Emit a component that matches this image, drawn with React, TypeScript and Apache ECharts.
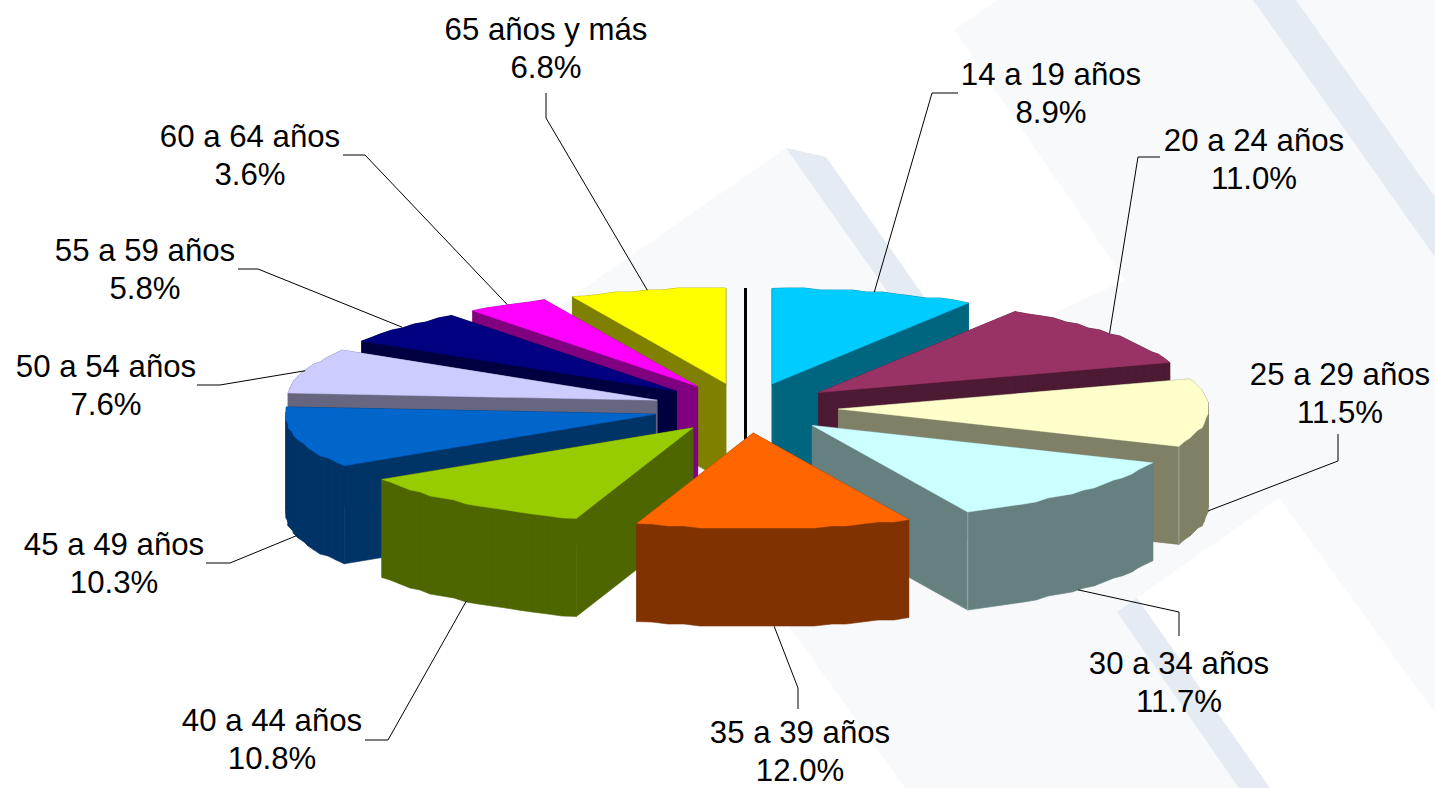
import React, { useEffect, useRef } from "react";
import * as echarts from "echarts";

const categories = ["14 a 19 años", "20 a 24 años", "25 a 29 años", "30 a 34 años", "35 a 39 años", "40 a 44 años", "45 a 49 años", "50 a 54 años", "55 a 59 años", "60 a 64 años", "65 años y más"];
const shares = [8.9, 11.0, 11.5, 11.7, 12.0, 10.8, 10.3, 7.6, 5.8, 3.6, 6.8];
const topColors = ["#00CCFF", "#993366", "#FFFFCC", "#CCFFFF", "#FF6600", "#99CC00", "#0066CC", "#CCCCFF", "#000080", "#FF00FF", "#FFFF00"];
const sideColors = ["#006680", "#4D1A33", "#808066", "#668080", "#803300", "#4D6600", "#003366", "#666680", "#000040", "#800080", "#808000"];

// Layout only: horizontal nudge of a slice, leader elbow, leader end, label centre
const sliceNudges = [1, 0, 0, 0, 2.5, 4.5, 0, 0, 0, 0, 0];
const leaderElbows = [[932, 93], [1138, 157], [1338, 461], [1179, 612], [798, 688], [388, 740], [230, 563], [220, 385], [258, 269], [365, 155], [546, 118]];
const leaderEnds = [[958, 93], [1160, 157], [1338, 434], [1179, 636], [798, 709], [365, 740], [206, 563], [197, 385], [238, 269], [343, 155], [546, 93]];
const labelCentres = [[1051, 74], [1254, 140], [1340, 374], [1179, 663], [800, 732], [272, 720], [114, 544], [106, 366], [145, 250], [250, 136], [546, 29]];

const CX = 745.5, CY = 408, RX = 370, RY = 95.5, EX = 93, EY = 25, DEPTH = 98;
const LIGHT = "#F7F9FB", STRIPE = "#E5EBF3";
const FONT = '31.2px "Liberation Sans", Arial, sans-serif';

const total = shares.reduce((a, b) => a + b, 0);
const ang = (p: number) => (p / total) * Math.PI * 2;
const cum: number[] = [];
shares.reduce((a, v, i) => ((cum[i] = a), a + v), 0);

function apex(mid: number, i: number) {
  return [CX + sliceNudges[i] + EX * Math.sin(mid), CY - EY * Math.cos(mid)];
}
function rim(ap: number[], a: number) {
  return [ap[0] + RX * Math.sin(a), ap[1] - RY * Math.cos(a)];
}
function arc(ap: number[], a0: number, a1: number) {
  const n = Math.max(2, Math.round((a1 - a0) / (Math.PI / 72)));
  const pts: number[][] = [];
  for (let i = 0; i <= n; i++) {
    const p = rim(ap, a0 + ((a1 - a0) * i) / n);
    pts.push(i === 0 || i === n ? p : [Math.round(p[0] / 2) * 2, Math.round(p[1] / 2) * 2]);
  }
  return pts;
}
const down = (p: number[]) => [p[0], p[1] + DEPTH];

const order = shares.map((_, i) => i).sort((a, b) => {
  const m = (k: number) => Math.cos(ang(cum[k] + shares[k] / 2));
  return m(b) - m(a);
});

function renderSlice(_: any, api: any) {
  const i = api.value(0);
  const a0 = ang(api.value(1));
  const a1 = ang(api.value(1) + api.value(2));
  const ap = apex((a0 + a1) / 2, i);
  const top = arc(ap, a0, a1);
  const first = top[0], last = top[top.length - 1];
  const side = sideColors[i];
  const wallStyle = { fill: side, stroke: side, lineWidth: 0.6 };
  const poly = (points: number[][], style: any) => ({ type: "polygon", shape: { points }, style });
  const children: any[] = [
    poly([ap, first, down(first), down(ap)], wallStyle),
    poly([ap, last, down(last), down(ap)], wallStyle),
  ];
  for (let k = 0; k < top.length - 1; k++) {
    children.push(poly([top[k], top[k + 1], down(top[k + 1]), down(top[k])], wallStyle));
  }
  const endDeg = (a1 * 180) / Math.PI;
  if (endDeg > 100 && endDeg < 180) {
    children.push({ type: "line", shape: { x1: last[0], y1: last[1], x2: last[0], y2: last[1] + DEPTH }, style: { stroke: "rgba(255,255,255,0.3)", lineWidth: 1 } });
  }
  children.push(poly([ap, ...top], { fill: topColors[i], stroke: topColors[i], lineWidth: 0.4 }));
  return { type: "group", children };
}

function renderLabel(_: any, api: any) {
  const i = api.value(0);
  const a0 = ang(api.value(1));
  const a1 = ang(api.value(1) + api.value(2));
  const mid = (a0 + a1) / 2;
  const p0 = rim(apex(mid, i), mid);
  const start = Math.cos(mid) < 0.1 ? down(p0) : p0;
  const [lx, ly] = labelCentres[i];
  const text = (t: string, y: number) => ({
    type: "text",
    style: { text: t, x: lx, y, align: "center", verticalAlign: "middle", font: FONT, fill: "#000" },
  });
  return {
    type: "group",
    children: [
      { type: "polyline", shape: { points: [start, leaderElbows[i], leaderEnds[i]] }, style: { fill: "none", stroke: "#000", lineWidth: 1 } },
      text(categories[i], ly),
      text(shares[i].toFixed(1) + "%", ly + 38),
    ],
  };
}

const sliceData = order.map((i) => [i, cum[i], shares[i]]);

const bg = (points: number[][], fill: string) => ({ type: "polygon", z: -10, silent: true, shape: { points }, style: { fill } });

export default function App() {
  const ref = useRef<HTMLDivElement>(null);
  useEffect(() => {
    document.body.style.margin = "0";
    const chart = echarts.init(ref.current!, null, { renderer: "svg" });
    chart.setOption({
      animation: false,
      backgroundColor: "#FFFFFF",
      graphic: {
        elements: [
          bg([[786, 148], [826, 157], [965, 355], [1125, 280], [954, 30], [997, 0], [1435, 0], [1435, 713], [1279, 498], [1137, 598], [1270, 788], [905, 788], [790, 628], [560, 305]], LIGHT),
          bg([[1253, 0], [1296, 0], [1435, 197], [1435, 257]], STRIPE),
          bg([[786, 148], [826, 157], [965, 355], [925, 345]], STRIPE),
          bg([[1117, 612], [1137, 598], [1270, 788], [1239, 788]], STRIPE),
          { type: "line", z: -5, silent: true, shape: { x1: 745.5, y1: 288, x2: 745.5, y2: 440 }, style: { stroke: "#000", lineWidth: 3 } },
        ],
      },
      series: [
        { type: "custom", coordinateSystem: "none", renderItem: renderSlice, data: sliceData, z: 2, silent: true },
        { type: "custom", coordinateSystem: "none", renderItem: renderLabel, data: sliceData, z: 3, silent: true },
      ],
    });
    return () => chart.dispose();
  }, []);
  return <div ref={ref} style={{ position: "absolute", left: 0, top: 0, width: 1435, height: 788, overflow: "hidden" }} />;
}
